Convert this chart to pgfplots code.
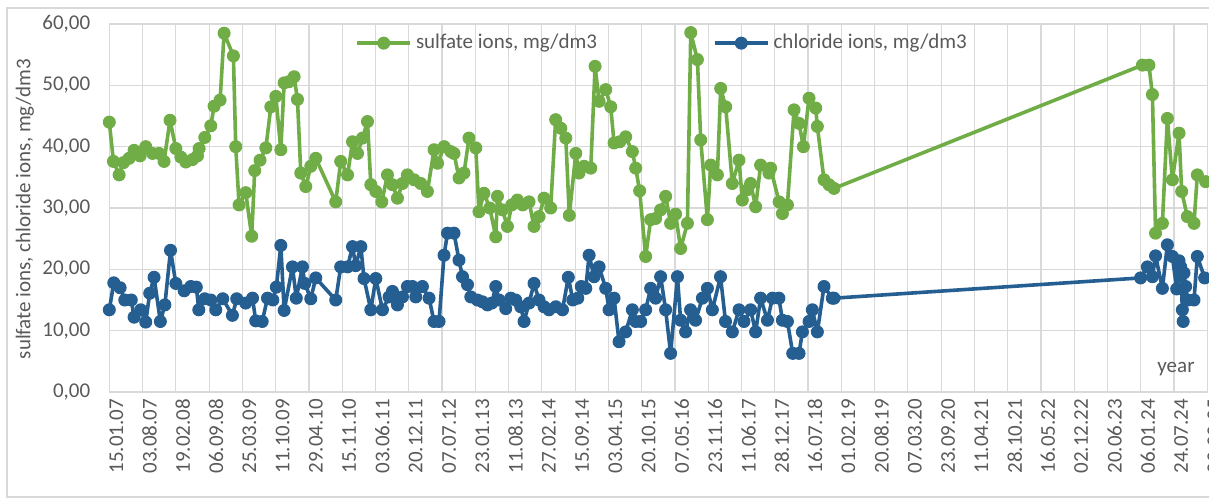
\documentclass[border=0pt]{standalone}
\usepackage{fontspec}
\setmainfont{Carlito}
\usepackage{pgfplots}
\usepackage{pgfplotstable}
\pgfplotsset{compat=1.18}
\definecolor{sulf}{HTML}{70AD47}
\definecolor{chlor}{HTML}{255E91}
\definecolor{gridc}{HTML}{D9D9D9}
\definecolor{txt}{HTML}{595959}

% day = days since 15.01.07
\pgfplotstableread{
day val
0 44.0
25 37.6
59 35.4
85 37.4
119 38.1
149 39.4
185 38.5
219 40.0
260 38.9
299 38.9
329 37.6
365 44.3
400 39.7
430 38.3
460 37.5
500 37.9
530 38.5
540 39.7
574 41.5
610 43.4
630 46.6
666 47.6
690 58.5
746 54.8
760 40.0
780 30.5
820 32.5
856 25.4
874 36.1
906 37.8
941 39.8
971 46.5
1001 48.2
1031 39.5
1051 50.4
1081 50.6
1111 51.4
1131 47.7
1151 35.7
1181 33.5
1211 36.8
1241 38.1
1361 31.0
1391 37.6
1432 35.4
1462 40.8
1492 38.9
1522 41.4
1552 44.1
1572 33.8
1602 32.7
1638 31.0
1672 35.4
1702 33.8
1732 31.6
1762 34.0
1792 35.4
1832 34.6
1872 34.0
1912 32.7
1952 39.5
1973 37.3
2013 40.0
2053 39.2
2072 38.9
2102 34.9
2132 35.7
2162 41.4
2203 39.8
2222 29.4
2252 32.4
2287 30.0
2323 25.3
2333 31.9
2363 29.7
2393 27.0
2419 30.5
2453 31.3
2485 30.5
2523 31.0
2553 27.0
2583 28.6
2613 31.6
2653 30.0
2683 44.4
2714 43.0
2744 41.4
2765 28.8
2804 38.9
2823 35.7
2854 36.8
2894 36.5
2920 53.1
2944 47.4
2984 49.3
3014 46.5
3034 40.6
3068 40.8
3104 41.6
3144 39.2
3164 36.5
3188 32.8
3224 22.1
3254 28.1
3284 28.3
3314 29.7
3344 31.9
3374 27.5
3404 29.0
3434 23.4
3475 27.5
3495 58.6
3535 54.2
3555 41.1
3595 28.1
3615 37.0
3655 35.4
3675 49.5
3705 46.5
3745 34.0
3785 37.8
3805 31.3
3837 33.0
3855 34.0
3885 30.2
3915 37.0
3965 35.7
3975 36.5
4026 31.0
4046 29.1
4076 30.5
4116 46.0
4146 43.8
4172 40.0
4206 47.9
4246 46.3
4256 43.3
4296 34.6
4326 33.8
4356 33.2
6210 53.3
6249 53.3
6270 48.5
6289 25.9
6330 27.5
6360 44.6
6390 34.6
6430 42.2
6446 32.7
6480 28.6
6520 27.5
6540 35.4
6590 34.3
}\sulfate

\pgfplotstableread{
day val
0 13.4
27 17.8
65 17.0
93 15.0
132 15.0
149 12.2
189 13.4
219 11.4
243 16.1
269 18.7
307 11.5
334 14.2
368 23.1
400 17.7
450 16.5
490 17.2
523 17.1
538 13.4
574 15.2
610 15.0
640 13.4
682 15.2
740 12.5
766 15.2
820 14.5
861 15.3
880 11.6
919 11.5
951 15.3
983 15.0
1004 17.1
1031 23.9
1051 13.3
1101 20.4
1124 15.3
1161 20.4
1175 17.7
1211 15.2
1241 18.6
1361 15.0
1391 20.4
1432 20.4
1462 23.7
1481 20.6
1512 23.7
1531 18.5
1572 13.4
1602 18.5
1642 13.4
1682 15.5
1702 16.4
1732 14.2
1762 15.5
1792 17.2
1822 17.2
1842 15.5
1882 17.2
1922 15.3
1952 11.5
1982 11.5
2012 22.3
2033 25.9
2072 25.9
2102 21.5
2123 18.8
2153 17.5
2173 15.5
2213 15.0
2243 14.7
2273 14.2
2299 14.5
2323 17.2
2343 15.0
2383 13.6
2413 15.3
2443 15.0
2473 13.9
2493 11.5
2523 14.5
2553 17.7
2583 15.0
2613 13.9
2643 13.4
2684 13.9
2724 13.4
2759 18.7
2786 15.0
2816 15.3
2837 17.2
2864 16.9
2884 22.3
2914 18.8
2944 20.4
2984 16.9
3004 13.4
3034 15.3
3064 8.2
3104 9.8
3144 13.4
3164 11.5
3194 11.5
3224 13.4
3254 16.9
3284 15.3
3314 18.8
3344 13.4
3374 6.3
3415 18.8
3434 11.7
3464 9.8
3494 13.4
3524 11.7
3565 15.3
3595 16.9
3625 13.4
3674 18.8
3704 11.5
3745 9.8
3785 13.4
3815 11.5
3855 13.4
3885 9.8
3915 15.3
3956 11.7
3986 15.3
4025 15.3
4046 11.7
4076 11.5
4108 6.3
4146 6.3
4166 9.8
4206 11.5
4226 13.4
4256 9.8
4296 17.2
4346 15.3
4356 15.3
6199 18.6
6240 20.4
6270 18.8
6289 22.2
6330 16.9
6360 24.0
6390 22.1
6416 16.8
6430 21.4
6440 20.4
6450 13.4
6455 11.5
6460 19.4
6470 17.2
6482 15.0
6520 15.0
6540 22.1
6584 18.6
}\chloride

\begin{document}
\begin{tikzpicture}
\useasboundingbox (0,0) rectangle (604.5pt,249.5pt);
\draw[gridc, line width=0.6pt] (3.5pt,1pt) rectangle (640pt,245.5pt);
\begin{axis}[
  at={(54.65pt,53.5pt)}, anchor=south west,
  width=549pt, height=184pt, scale only axis,
  xmin=0, xmax=6600, ymin=0, ymax=60,
  xtick={0,200,...,6600},
  xticklabels={15.01.07,03.08.07,19.02.08,06.09.08,25.03.09,11.10.09,29.04.10,15.11.10,03.06.11,20.12.11,07.07.12,23.01.13,11.08.13,27.02.14,15.09.14,03.04.15,20.10.15,07.05.16,23.11.16,11.06.17,28.12.17,16.07.18,01.02.19,20.08.19,07.03.20,23.09.20,11.04.21,28.10.21,16.05.22,02.12.22,20.06.23,06.01.24,24.07.24,09.02.25},
  ytick={0,10,...,60},
  yticklabels={{0,00},{10,00},{20,00},{30,00},{40,00},{50,00},{60,00}},
  grid=major,
  major grid style={gridc, line width=0.6pt},
  axis line style={gridc, line width=0.6pt},
  major tick length=0pt,
  tick label style={font=\fontsize{10.5}{12}\selectfont, text=txt},
  xticklabel style={rotate=90, anchor=east, yshift=-3.5pt},
  yticklabel style={xshift=-6pt},
  legend style={at={(rel axis cs:0.2183,0.948)}, anchor=west, legend columns=2,
    draw=none, fill=none, font=\fontsize{10.5}{12}\selectfont, text=txt,
    /tikz/every even column/.append style={column sep=0pt}},
  legend image code/.code={\draw[#1, mark repeat=2, mark phase=2] plot coordinates {(0pt,0pt) (13.25pt,0pt) (26.5pt,0pt)};},
  clip=false,
]
\addplot[color=sulf, line width=1.8pt, line join=round, mark=*, mark size=3pt,
  mark options={fill=sulf, draw=sulf, line width=0.5pt}] table[x=day, y=val] {\sulfate};
\addlegendentry{\makebox[146.5pt][l]{sulfate ions, mg/dm3}}
\addplot[color=chlor, line width=1.8pt, line join=round, mark=*, mark size=3pt,
  mark options={fill=chlor, draw=chlor, line width=0.5pt}] table[x=day, y=val] {\chloride};
\addlegendentry{chloride ions, mg/dm3}
\node[text=txt, font=\fontsize{10.5}{12}\selectfont] at (rel axis cs:0.9715,0.0625) {year};
\end{axis}
\node[rotate=90, text=txt, font=\fontsize{10.5}{12}\selectfont] at (12.5pt,145pt) {sulfate ions, chloride ions, mg/dm3};
\end{tikzpicture}
\end{document}
